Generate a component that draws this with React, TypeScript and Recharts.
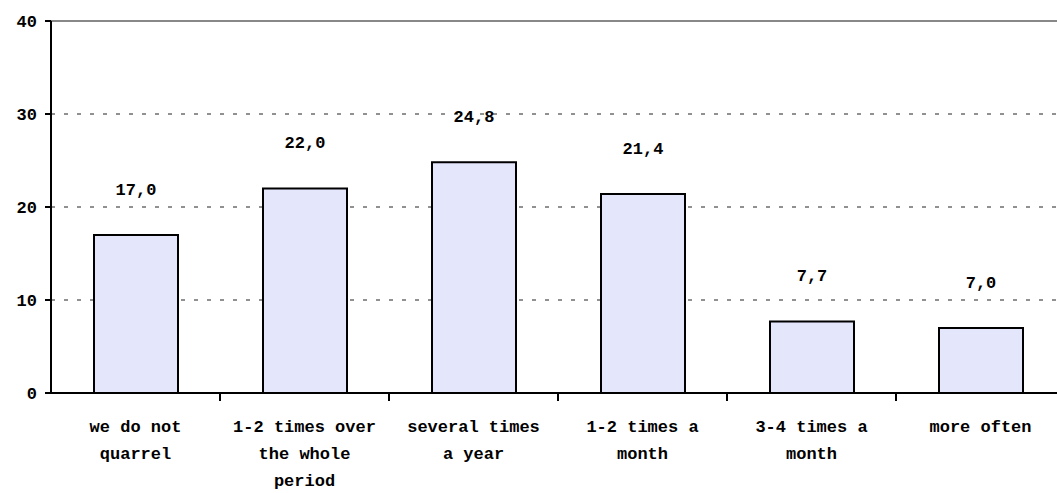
import React from "react";
import {
  BarChart,
  Bar,
  XAxis,
  YAxis,
  CartesianGrid,
  ReferenceLine,
  LabelList,
} from "recharts";

const categories = [
  "we do not\nquarrel",
  "1-2 times over\nthe whole\nperiod",
  "several times\na year",
  "1-2 times a\nmonth",
  "3-4 times a\nmonth",
  "more often",
];
const shares = [17.0, 22.0, 24.8, 21.4, 7.7, 7.0];
const yTicks = [0, 10, 20, 30, 40];

const data = categories.map((name, i) => ({ name, value: shares[i] }));

const FONT = "'Liberation Mono', 'Courier New', monospace";
const CHART_W = 1080;
const MARGIN_RIGHT = 15;
const Y_AXIS_W = 51;
const BAND = (CHART_W - MARGIN_RIGHT - Y_AXIS_W) / categories.length;

function CategoryTick(props: any) {
  const { x, y, payload } = props;
  const lines = String(payload.value).split("\n");
  const left = x - BAND / 2;
  return (
    <g>
      {payload.index > 0 && (
        <line x1={left} x2={left} y1={y} y2={y + 8} stroke="#000" strokeWidth={2} />
      )}
      <text
        x={x}
        y={y + 39}
        textAnchor="middle"
        fontFamily={FONT}
        fontWeight="bold"
        fontSize={17}
        fill="#000"
      >
        {lines.map((l, i) => (
          <tspan key={i} x={x} dy={i === 0 ? 0 : 27}>
            {l}
          </tspan>
        ))}
      </text>
    </g>
  );
}

export default function App() {
  return (
    <div
      style={{
        position: "absolute",
        left: 0,
        top: 0,
        width: 1057,
        height: 493,
        overflow: "hidden",
        background: "#fff",
      }}
    >
      <BarChart
        width={CHART_W}
        height={493}
        data={data}
        margin={{ top: 21, right: MARGIN_RIGHT, bottom: 0, left: 0 }}
        barSize={84}
      >
        <CartesianGrid vertical={false} stroke="#222" strokeDasharray="4 9" />
        <ReferenceLine y={40} stroke="#888" strokeWidth={2} />
        <XAxis
          dataKey="name"
          interval={0}
          height={100}
          tickLine={false}
          tickSize={0}
          tickMargin={0}
          axisLine={{ stroke: "#000", strokeWidth: 2 }}
          tick={<CategoryTick />}
        />
        <YAxis
          width={Y_AXIS_W}
          domain={[0, 40]}
          ticks={yTicks}
          interval={0}
          tickSize={6}
          tickMargin={8}
          axisLine={{ stroke: "#000", strokeWidth: 2 }}
          tickLine={{ stroke: "#000", strokeWidth: 2 }}
          tick={{ fill: "#000", fontFamily: FONT, fontWeight: "bold", fontSize: 17 }}
        />
        <Bar
          dataKey="value"
          fill="#e4e6fc"
          stroke="#000"
          strokeWidth={2}
          isAnimationActive={false}
        >
          <LabelList
            dataKey="value"
            position="top"
            offset={40}
            formatter={(v: any) => Number(v).toFixed(1).replace(".", ",")}
            style={{ fill: "#000", fontFamily: FONT, fontWeight: "bold", fontSize: 17 }}
          />
        </Bar>
      </BarChart>
    </div>
  );
}
